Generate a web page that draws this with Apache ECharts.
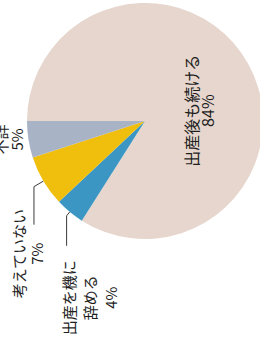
<!DOCTYPE html>
<html>
<head>
<meta charset="utf-8">
<script src="https://cdn.jsdelivr.net/npm/echarts@6/dist/echarts.min.js"></script>
<style>
  html, body { margin: 0; padding: 0; background: #fff; }
  #wrap { position: relative; width: 260px; height: 345px; overflow: hidden; }
  /* 元の図は横向きに組まれて 90 度回されている */
  #chart { position: absolute; left: 0; top: 0; width: 345px; height: 260px;
    transform-origin: 0 0; transform: translateY(345px) rotate(-90deg); }
</style>
</head>
<body>
<div id="wrap"><div id="chart"></div></div>
<script>
// 回答項目（改行は印刷物どおり）
const names = ['出産後も続ける', '出産を機に\n辞める', '考えていない', '不詳'];
const values = [84, 4, 7, 5];
const colors = ['#e6d6cd', '#3c96c3', '#f0be0c', '#a9b3c6'];

const FONT = '"Noto Sans CJK JP", "Noto Sans", sans-serif';

let chart = echarts.init(document.getElementById('chart'), null, { renderer: 'svg' });

// 外側ラベルは行ごとに中央揃え
function richLines(p) {
  return p.name.split('\n').concat(p.value + '%').map(s => '{a|' + s + '}').join('\n');
}
function rich(width, lineHeight) {
  return { a: { width: width, align: 'center', fontSize: 15, lineHeight: lineHeight, fontFamily: FONT, color: '#1e1e1e' } };
}

let data = [
  {
    name: names[0], value: values[0], itemStyle: { color: colors[0] },
    label: { position: 'inside', formatter: '{b}\n{c}%', fontSize: 16, lineHeight: 16, padding: [0, 39, 27, 0] },
    labelLine: { show: false }
  },
  {
    name: names[1], value: values[1], itemStyle: { color: colors[1] },
    label: { formatter: richLines, rich: rich(80, 21), padding: [46, 0, 0, 0], distanceToLabelLine: 12 },
    labelLine: { length: 5, length2: 30 }
  },
  {
    name: names[2], value: values[2], itemStyle: { color: colors[2] },
    label: { formatter: richLines, rich: rich(92, 18), padding: [0, 0, 12, 0], distanceToLabelLine: -17 },
    labelLine: { length: 11, length2: 38 }
  },
  {
    name: names[3], value: values[3], itemStyle: { color: colors[3] },
    label: { formatter: richLines, rich: rich(32, 16), padding: [0, 0, 39, 0], distanceToLabelLine: -16 },
    labelLine: { show: false, length: 0, length2: 0 }
  }
];

let option = {
  animation: false,
  series: [{
    type: 'pie',
    center: [224, 145],
    radius: 118,
    startAngle: 90,
    clockwise: true,
    avoidLabelOverlap: false,
    minShowLabelAngle: 0,
    silent: true,
    label: { color: '#1e1e1e', fontFamily: FONT, fontSize: 15, overflow: 'none' },
    labelLine: { smooth: false, lineStyle: { color: '#3a3a3a', width: 1 } },
    itemStyle: { borderWidth: 0 },
    emphasis: { disabled: true },
    data: data
  }]
};
chart.setOption(option);
</script>
</body>
</html>
